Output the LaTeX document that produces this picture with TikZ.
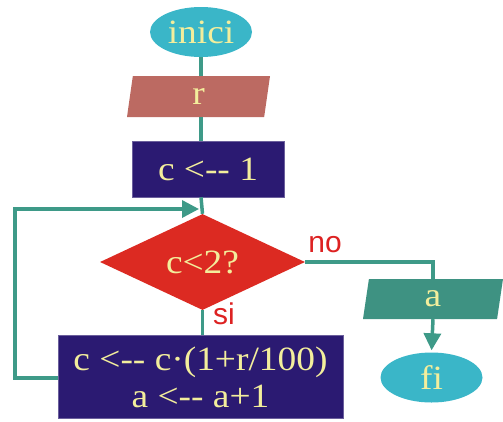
\documentclass[tikz,border=0pt]{standalone}
\usepackage{fontspec}
\setmainfont[FakeStretch=1.1]{Liberation Serif}
\setsansfont{Liberation Sans}
\usetikzlibrary{shapes.geometric,arrows.meta}
\definecolor{cyanT}{HTML}{3AB6C8}
\definecolor{txtY}{HTML}{F3EE9C}
\definecolor{rcol}{HTML}{BC6A62}
\definecolor{navy}{HTML}{2B1A72}
\definecolor{redD}{HTML}{DC2A22}
\definecolor{acol}{HTML}{3E9282}
\definecolor{lineC}{HTML}{3E9A88}
\definecolor{lblR}{HTML}{DD2222}
\tikzset{
  term/.style={ellipse, fill=cyanT, text=txtY, minimum width=102, minimum height=50, inner sep=0pt, font=\fontsize{34}{37}\selectfont},
  io/.style={trapezium, trapezium left angle=70, trapezium right angle=110, trapezium stretches body, text=txtY, inner sep=0pt, font=\fontsize{34}{37}\selectfont},
  proc/.style={rectangle, fill=navy, draw=navy!70!white, line width=0.6pt, text=txtY, inner sep=0pt, font=\fontsize{34}{37}\selectfont},
  dec/.style={diamond, fill=redD, text=txtY, minimum width=205, minimum height=89, inner sep=0pt, font=\fontsize{34}{37}\selectfont},
  conn/.style={draw=lineC, line width=3.5pt},
  arr/.style={conn, -{Triangle[length=17pt, width=17pt]}},
  lbl/.style={text=lblR, inner sep=0pt, font=\sffamily\fontsize{30}{32}\selectfont}
}
\begin{document}
\begin{tikzpicture}[x=1pt,y=-1pt]
\useasboundingbox (0,0) rectangle (503,421);
% connectors first (behind nodes)
\coordinate (join) at (201,209);
\coordinate (loopbl) at (15,378);
\coordinate (looptl) at (15,209);
\node[term] (inici) at (201,32) {inici};
\node[io, fill=rcol, minimum width=143, minimum height=41] (r) at (198.5,96.5) {r};
\node[proc, minimum width=152, minimum height=56] (init) at (208,169) {c <-{}- 1};
\node[dec] (cond) at (202.5,262) {c<2?};
\node[proc, minimum width=285, minimum height=83, align=center] (body) at (200.5,377) {c <-{}- c·(1+r/100)\\a <-{}- a+1};
\node[io, fill=acol, minimum width=140, minimum height=40] (a) at (433,299) {a};
\node[term] (fi) at (431.5,377.5) {fi};
\node[lbl] (no) at (325,245) {no};
\node[lbl] (si) at (224,314) {si};
\begin{scope}[on background layer/.style={}]
\draw[conn] (inici.south) -- (inici.south |- r.north);
\draw[conn] (inici.south |- r.south) -- (inici.south |- init.north);
\draw[conn] (inici.south |- init.south) -- (cond.north);
\draw[conn] (cond.south) -- (cond.south |- body.north);
\draw[arr, shorten >=2pt] (body.west |- loopbl) -- (loopbl) -- (looptl) -- (join);
\draw[conn] (cond.east) -| (a.north);
\draw[arr, shorten >=2pt] (a.south) -- (fi.north);
\end{scope}
\end{tikzpicture}
\end{document}
